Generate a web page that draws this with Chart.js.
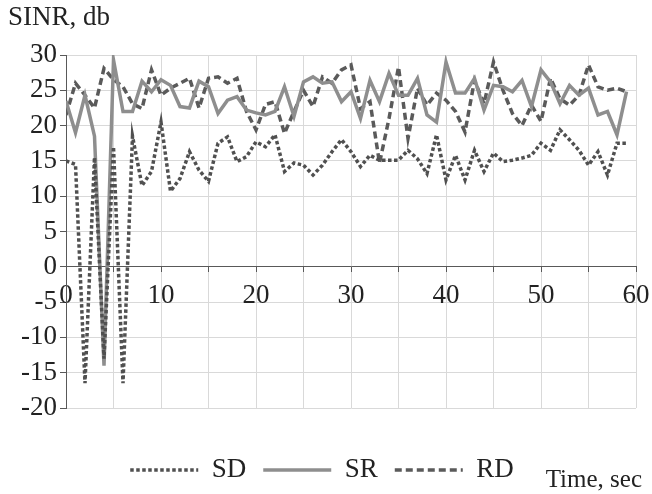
<!DOCTYPE html>
<html>
<head>
<meta charset="utf-8">
<title>SINR</title>
<script src="https://cdn.jsdelivr.net/npm/chart.js@4.4.1/dist/chart.umd.min.js"></script>
<style>
  html, body { margin: 0; padding: 0; background: #fff; }
  #wrap { width: 652px; height: 494px; }
</style>
</head>
<body>
<div id="wrap"><canvas id="sinrChart"></canvas></div>
<script>
// time axis, one sample per second
const timeLabels = [0, 1, 2, 3, 4, 5, 6, 7, 8, 9, 10, 11, 12, 13, 14, 15, 16, 17, 18, 19,
    20, 21, 22, 23, 24, 25, 26, 27, 28, 29, 30, 31, 32, 33, 34, 35, 36, 37, 38, 39,
    40, 41, 42, 43, 44, 45, 46, 47, 48, 49, 50, 51, 52, 53, 54, 55, 56, 57, 58, 59];

// SINR values (db)
const sdValues = [15, 14.5, -16.5, 15.5, -13, 17, -16.5, 18.5, 11.5, 13.5,
    20.5, 10.7, 12.5, 16.3, 13.7, 12.1, 17.5, 18.4, 14.9, 15.6,
    17.7, 17, 18.7, 13.5, 14.7, 14.4, 13, 14.4, 16.3, 18,
    16.3, 14.2, 15.8, 15.1, 15.1, 15.1, 16.5, 15.3, 13.2, 18.7,
    12.3, 15.8, 12.3, 16.5, 13.5, 16.1, 14.9, 15.1, 15.4, 15.8,
    17.5, 16.5, 19.4, 18, 16.5, 14.4, 16.3, 13, 17.5, 17.5];
const srValues = [23.5, 19, 24.3, 18.5, -14, 29.3, 22, 22, 26.3, 24.8,
    26.5, 25.7, 22.7, 22.5, 26.3, 25.5, 21.7, 23.6, 24.1, 22.2,
    21.8, 21.5, 22, 25.5, 21.3, 26.2, 26.9, 26, 26.2, 23.4,
    24.8, 21, 26.4, 23.4, 27.4, 24.3, 24.3, 26.7, 21.5, 20.5,
    29, 24.6, 24.6, 26.7, 22.2, 25.7, 25.5, 24.8, 26.4, 22.7,
    27.9, 26.2, 23.1, 25.7, 24.3, 25.3, 21.5, 22, 18.7, 24.8];
const rdValues = [21.5, 26, 24.3, 22.5, 28.1, 26.5, 25.5, 23.1, 22.4, 27.9,
    24.3, 25.3, 26, 26.7, 22.5, 26.7, 26.9, 26, 26.7, 22,
    19.4, 23, 23.4, 18.9, 22, 25, 22.7, 26.9, 26, 27.9,
    28.6, 22.4, 23.4, 14.7, 21, 28.3, 18.2, 25.3, 22.9, 24.6,
    23.6, 22, 19.1, 26.4, 23.1, 29, 25, 21.7, 20, 22.9,
    20.6, 26.7, 23.8, 22.9, 24.3, 28.6, 25.5, 25, 25.3, 24.8];

const seriesNames = ['SD', 'SR', 'RD'];
const yTitle = 'SINR, db';
const xTitle = 'Time, sec';

const axisColor = '#595959';
const gridColor = '#d9d9d9';
const textColor = '#222222';

Chart.defaults.font.family = "'Liberation Serif', 'DejaVu Serif', serif";
Chart.defaults.color = textColor;

// "Time, sec" sits to the right of the legend
const xTitlePlugin = {
    id: 'xTitle',
    afterDraw(chart) {
        const ctx = chart.ctx;
        ctx.save();
        ctx.font = "25px 'Liberation Serif', serif";
        ctx.fillStyle = textColor;
        ctx.textAlign = 'right';
        ctx.textBaseline = 'middle';
        ctx.fillText(xTitle, 642, 480);
        ctx.restore();
    },
};

// legend samples as short lines with the dataset's own dash pattern
function legendLabels(chart) {
    return chart.data.datasets.map((ds, i) => ({
        text: ds.label,
        datasetIndex: i,
        fillStyle: ds.borderColor,
        strokeStyle: ds.borderColor,
        fontColor: textColor,
        lineWidth: ds.borderWidth,
        lineDash: ds.borderDash || [],
        lineCap: 'butt',
        pointStyle: 'line',
        hidden: false,
    }));
}

function createSinrChart() {
    const ctx = document.getElementById('sinrChart').getContext('2d');
    new Chart(ctx, {
        type: 'line',
        data: {
            labels: timeLabels,
            datasets: [{
                label: seriesNames[0],
                data: sdValues,
                borderColor: '#505050',
                backgroundColor: '#505050',
                borderWidth: 3.5,
                borderDash: [3.5, 2.5],
            }, {
                label: seriesNames[1],
                data: srValues,
                borderColor: '#8e8e8e',
                backgroundColor: '#8e8e8e',
                borderWidth: 3.5,
            }, {
                label: seriesNames[2],
                data: rdValues,
                borderColor: '#5a5a5a',
                backgroundColor: '#5a5a5a',
                borderWidth: 3.5,
                borderDash: [7, 4],
            }],
        },
        options: {
            responsive: true,
            maintainAspectRatio: false,
            animation: false,
            elements: {
                point: { radius: 0 },
                line: { tension: 0, fill: false },
            },
            layout: {
                padding: { top: 0, left: 8, right: 16, bottom: 0.5 },
            },
            scales: {
                x: {
                    type: 'linear',
                    min: 0,
                    max: 60,
                    position: { y: 0 },
                    grid: {
                        color: gridColor,
                        tickColor: axisColor,
                        tickLength: 5,
                        z: -1,
                    },
                    border: { color: axisColor, width: 1 },
                    ticks: {
                        stepSize: 5,
                        maxRotation: 0,
                        autoSkip: false,
                        padding: 8,
                        font: { size: 27 },
                        callback: (v) => (v % 10 === 0 ? v : ''),
                    },
                    // labels may hang over the plot edges, do not shrink the plot for them
                    afterFit: (scale) => {
                        scale.paddingLeft = 0;
                        scale.paddingRight = 0;
                    },
                },
                y: {
                    min: -20,
                    max: 30,
                    grid: {
                        color: gridColor,
                        tickColor: axisColor,
                        tickLength: 6,
                        z: -1,
                    },
                    border: { color: axisColor, width: 1 },
                    ticks: {
                        stepSize: 5,
                        autoSkip: false,
                        padding: 3,
                        font: { size: 27 },
                    },
                    afterFit: (scale) => { scale.width = 58; },
                },
            },
            plugins: {
                title: {
                    display: true,
                    text: yTitle,
                    align: 'start',
                    color: textColor,
                    font: { size: 27, weight: 'normal' },
                    padding: { top: 2, bottom: 20.6 },
                },
                legend: {
                    position: 'bottom',
                    title: {
                        display: true,
                        text: '',
                        font: { size: 10, lineHeight: 1 },
                        padding: { top: 21.5, bottom: 0 },
                    },
                    labels: {
                        usePointStyle: true,
                        pointStyle: 'line',
                        pointStyleWidth: 68,
                        padding: 17,
                        color: textColor,
                        font: { size: 27 },
                        generateLabels: legendLabels,
                    },
                },
                tooltip: { enabled: false },
            },
        },
        plugins: [xTitlePlugin],
    });
}

document.addEventListener('DOMContentLoaded', () => {
    createSinrChart();
});
</script>
</body>
</html>
